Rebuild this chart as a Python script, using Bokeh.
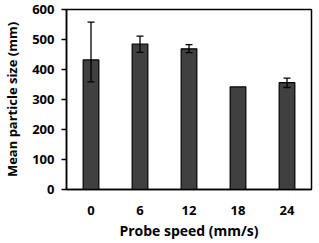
from bokeh.plotting import figure
from bokeh.models import ColumnDataSource, Whisker, TeeHead, FactorRange
from bokeh.embed import file_html
from bokeh.resources import INLINE

speeds = ["0", "6", "12", "18", "24"]
mean_size = [432, 485, 469, 342, 356]
err_upper = [558, 511, 483, 342, 371]
err_lower = [359, 457, 456, 342, 340]

FONT = "Open Sans"

src = ColumnDataSource(dict(x=speeds, top=mean_size))
err_src = ColumnDataSource(dict(
    x=[s for s, u, l in zip(speeds, err_upper, err_lower) if u != l],
    upper=[u for u, l in zip(err_upper, err_lower) if u != l],
    lower=[l for u, l in zip(err_upper, err_lower) if u != l],
))

p = figure(frame_width=245, frame_height=180, x_range=FactorRange(*speeds, range_padding=0),
           y_range=(0, 600), output_backend="svg", toolbar_location=None,
           min_border_left=0, min_border_right=2, min_border_top=9, min_border_bottom=0)

p.vbar(x="x", top="top", width=0.32, source=src, fill_color="#404040",
       line_color="black", line_width=1.2)

w = Whisker(base="x", upper="upper", lower="lower", source=err_src,
            line_color="black", line_width=1.3, level="annotation",
            upper_head=TeeHead(size=7, line_color="black", line_width=1.3),
            lower_head=TeeHead(size=7, line_color="black", line_width=1.3))
p.add_layout(w)

p.xgrid.visible = False
p.ygrid.visible = False
p.outline_line_color = "black"
p.outline_line_width = 1.5
p.background_fill_color = "white"
p.border_fill_color = "white"

p.yaxis.ticker = [0, 100, 200, 300, 400, 500, 600]
p.yaxis.minor_tick_line_color = None
p.yaxis.major_tick_in = 0
p.yaxis.major_tick_out = 5
p.yaxis.major_label_standoff = 7
p.yaxis.axis_label = "Mean particle size (mm)"
p.yaxis.axis_label_standoff = 8

p.xaxis.minor_tick_line_color = None
p.xaxis.major_tick_in = 0
p.xaxis.major_tick_out = 0
p.xaxis.major_label_standoff = 16
p.xaxis.axis_label = "Probe speed (mm/s)"
p.xaxis.axis_label_standoff = 3

for ax in (p.xaxis, p.yaxis):
    ax.axis_line_color = "black"
    ax.axis_line_width = 1.5
    ax.major_tick_line_width = 1.5
    ax.major_label_text_font = FONT
    ax.major_label_text_font_style = "bold"
    ax.major_label_text_font_size = "13px"
    ax.major_label_text_color = "black"
    ax.axis_label_text_font = FONT
    ax.axis_label_text_font_style = "bold"
    ax.axis_label_text_color = "black"
p.xaxis.axis_label_text_font_size = "14px"
p.yaxis.axis_label_text_font_size = "13px"
p.xaxis.major_tick_line_color = None
p.yaxis.major_tick_line_color = "black"

open("out.html", "w").write(file_html(p, INLINE))
